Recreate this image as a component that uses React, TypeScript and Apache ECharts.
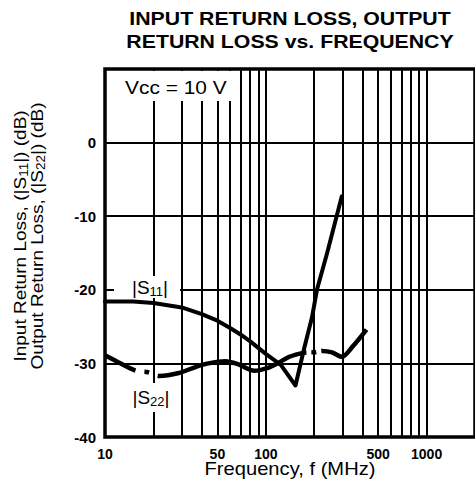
import React, { useEffect, useRef } from "react";
import * as echarts from "echarts";

// Frequencies (MHz) and return loss (dB)
const S11_FREQ = [10, 15, 20, 30, 40, 50, 60, 70, 80, 100, 124, 153, 173, 194, 208, 240, 297];
const S11_DB = [-21.6, -21.6, -21.8, -22.4, -23.3, -24.2, -25.2, -26.1, -27.0, -28.7, -30.2, -33.0, -28.0, -23.7, -20.0, -15.1, -7.3];

const S22_FREQ = [10, 12, 15.6, 18.5, 21.7, 28.8, 36.5, 44, 56, 67, 85, 103, 118, 140, 161, 181, 199, 224, 258, 297, 350, 423];
const S22_DB = [-28.9, -29.8, -31.0, -31.2, -31.7, -31.3, -30.5, -30.0, -29.7, -30.1, -31.0, -30.6, -30.0, -29.1, -28.7, -28.5, -28.5, -28.3, -28.5, -29.1, -27.6, -25.4];

const X_GRID_LINES = [20, 30, 40, 50, 60, 70, 80, 90, 100, 200, 300, 400, 500, 600, 700, 800, 900, 1000];
const X_TICK_LABELS = [10, 50, 100, 500, 1000];
const Y_MIN = -40;
const Y_MAX = 10;
const Y_STEP = 10;
const X_MIN = 10;
const X_MAX = 2000;

const TITLE_1 = "INPUT RETURN LOSS, OUTPUT";
const TITLE_2 = "RETURN LOSS vs. FREQUENCY";
const X_TITLE = "Frequency, f (MHz)";
const VCC_LABEL = "Vcc = 10 V";

const SANS = "'Liberation Sans', Arial, Helvetica, sans-serif";

export default function App() {
  const ref = useRef<HTMLDivElement>(null);

  useEffect(() => {
    if (!ref.current) return;
    const chart = echarts.init(ref.current, undefined, { renderer: "svg" });

    const main = { fontFamily: SANS, fontSize: 17, fill: "#000", lineHeight: 20 };
    const sub = { fontFamily: SANS, fontSize: 12, fill: "#000", lineHeight: 12, verticalAlign: "bottom" };
    const lbl = { fontFamily: SANS, fontSize: 19, fill: "#000", lineHeight: 22 };
    const lblSub = { fontFamily: SANS, fontSize: 13, fill: "#000", lineHeight: 13, verticalAlign: "bottom" };

    const option: any = {
      animation: false,
      backgroundColor: "#fff",
      grid: {
        left: 105,
        top: 69,
        width: 375,
        height: 368,
        show: true,
        borderColor: "#000",
        borderWidth: 3.5,
        backgroundColor: "transparent",
      },
      xAxis: {
        type: "log",
        logBase: 10,
        min: X_MIN,
        max: X_MAX,
        axisLine: { show: false },
        axisTick: { show: false },
        splitLine: { show: false },
        axisLabel: {
          customValues: X_TICK_LABELS,
          formatter: (v: number) => String(Math.round(v)),
          margin: 10,
          fontFamily: SANS,
          fontWeight: "bold",
          fontSize: 14,
          color: "#000",
        },
      },
      yAxis: {
        type: "value",
        min: Y_MIN,
        max: Y_MAX,
        interval: Y_STEP,
        axisLine: { show: false },
        axisTick: { show: false },
        splitLine: { show: true, lineStyle: { color: "#000", width: 2 } },
        axisLabel: {
          formatter: (v: number) => (v === Y_MAX ? "" : String(v)),
          margin: 9,
          fontFamily: SANS,
          fontWeight: "bold",
          fontSize: 15,
          color: "#000",
        },
      },
      series: [
        {
          type: "line",
          name: "grid",
          data: [],
          silent: true,
          markLine: {
            silent: true,
            symbol: ["none", "none"],
            label: { show: false },
            lineStyle: { color: "#000", width: 2, type: "solid" },
            emphasis: { disabled: true },
            data: X_GRID_LINES.map((f) => ({ xAxis: f })),
          },
        },
        {
          type: "line",
          name: "|S11|",
          data: S11_FREQ.map((f, i) => [f, S11_DB[i]]),
          showSymbol: false,
          symbol: "none",
          smooth: false,
          z: 5,
          lineStyle: { color: "#000", width: 4, cap: "round", join: "round" },
        },
        {
          type: "line",
          name: "|S22|",
          data: S22_FREQ.map((f, i) => [f, S22_DB[i]]),
          showSymbol: false,
          symbol: "none",
          smooth: 0.3,
          z: 5,
          lineStyle: { color: "#000", width: 4.5, type: [34, 9, 5, 9, 156, 5, 5, 5, 90], cap: "butt", join: "round" },
        },
      ],
      graphic: [
        {
          type: "text", x: 290, y: 18, scaleX: 1.12,
          style: { text: TITLE_1, fontFamily: SANS, fontWeight: "bold", fontSize: 19, fill: "#000", align: "center", verticalAlign: "middle" },
        },
        {
          type: "text", x: 290, y: 41, scaleX: 1.12,
          style: { text: TITLE_2, fontFamily: SANS, fontWeight: "bold", fontSize: 19, fill: "#000", align: "center", verticalAlign: "middle" },
        },
        { type: "rect", z: 50, shape: { x: 108, y: 71, width: 129, height: 30 }, style: { fill: "#fff" } },
        {
          type: "text", z: 51, x: 125, y: 87, scaleX: 1.1,
          style: { text: VCC_LABEL, fontFamily: SANS, fontSize: 19, fill: "#000", align: "left", verticalAlign: "middle" },
        },
        { type: "rect", z: 50, shape: { x: 114, y: 276, width: 66, height: 22 }, style: { fill: "#fff" } },
        {
          type: "text", z: 51, x: 150, y: 287,
          style: { text: "{a||S}{s|11}{a||}", rich: { a: lbl, s: lblSub }, align: "center", verticalAlign: "middle" },
        },
        { type: "rect", z: 50, shape: { x: 126, y: 383, width: 52, height: 29 }, style: { fill: "#fff" } },
        {
          type: "text", z: 51, x: 151, y: 397,
          style: { text: "{a||S}{s|22}{a||}", rich: { a: lbl, s: lblSub }, align: "center", verticalAlign: "middle" },
        },
        {
          type: "text", x: 20, y: 236, rotation: Math.PI / 2, scaleX: 1.12,
          style: { text: "{a|Input Return Loss, (|S}{s|11}{a||) (dB)}", rich: { a: main, s: sub }, align: "center", verticalAlign: "middle" },
        },
        {
          type: "text", x: 37, y: 236, rotation: Math.PI / 2, scaleX: 1.12,
          style: { text: "{a|Output Return Loss, (|S}{s|22}{a||) (dB)}", rich: { a: main, s: sub }, align: "center", verticalAlign: "middle" },
        },
        {
          type: "text", x: 290, y: 469, scaleX: 1.12,
          style: { text: X_TITLE, fontFamily: SANS, fontSize: 18, fill: "#000", align: "center", verticalAlign: "middle" },
        },
      ],
    };

    chart.setOption(option);
    return () => chart.dispose();
  }, []);

  return (
    <div
      ref={ref}
      style={{ position: "absolute", left: 0, top: 0, width: 475, height: 490 }}
    />
  );
}
